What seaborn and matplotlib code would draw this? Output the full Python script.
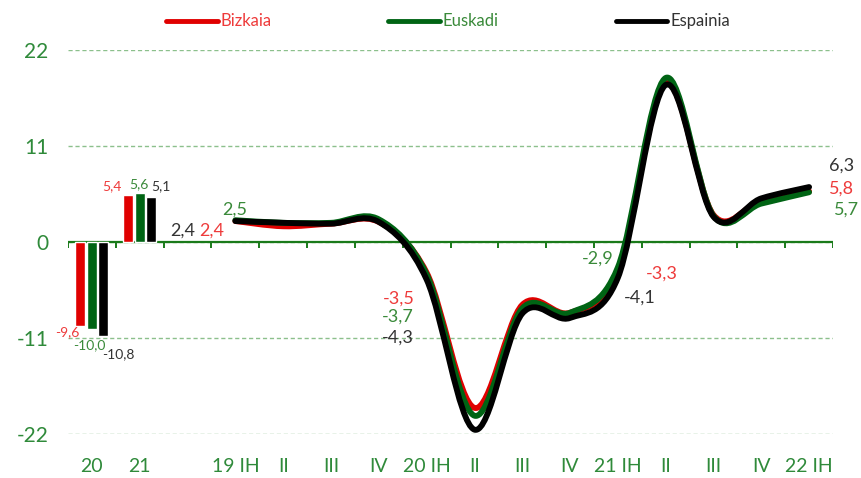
import pandas as pd
import matplotlib.pyplot as plt
import seaborn as sns
from matplotlib.path import Path
from matplotlib.patches import PathPatch
from matplotlib.lines import Line2D

series = ['Bizkaia', 'Euskadi', 'Espainia']
line_colors = ['#e00000', '#006414', '#000000']
text_colors = ['#ee3b3b', '#3a8a3a', '#333333']
green_txt = '#2f8a3a'

x_labels = ['20', '21', '', '19 IH', 'II', 'III', 'IV', '20 IH', 'II', 'III', 'IV',
            '21 IH', 'II', 'III', 'IV', '22 IH']

# annual rates (bars)
annual_bizkaia = [-9.6, 5.4]
annual_euskadi = [-10.0, 5.6]
annual_espainia = [-10.8, 5.1]

# half-year / quarterly rates (lines), 19 IH .. 22 IH
q_bizkaia = [2.4, 1.8, 2.1, 2.3, -3.5, -19.0, -7.2, -8.1, -3.3, 18.2, 3.1, 4.8, 5.8]
q_euskadi = [2.5, 2.2, 2.2, 2.6, -3.7, -19.9, -7.6, -8.1, -2.9, 18.8, 3.0, 4.4, 5.7]
q_espainia = [2.4, 2.2, 2.1, 2.3, -4.3, -21.5, -8.2, -8.7, -4.1, 18.0, 2.9, 5.0, 6.3]

annual = [annual_bizkaia, annual_euskadi, annual_espainia]
quarterly = [q_bizkaia, q_euskadi, q_espainia]
q_pos = list(range(3, 3 + len(q_bizkaia)))


def fmt(v):
    return f'{v:.1f}'.replace('.', ',')


def smooth_path(xs, ys):
    # Excel-style smoothed line: cubic bezier through every point
    pts = list(zip(xs, ys))
    verts = [pts[0]]
    codes = [Path.MOVETO]
    n = len(pts)
    for i in range(n - 1):
        p0 = pts[i - 1] if i > 0 else pts[i]
        p1, p2 = pts[i], pts[i + 1]
        p3 = pts[i + 2] if i + 2 < n else pts[i + 1]
        c1 = (p1[0] + (p2[0] - p0[0]) / 6, p1[1] + (p2[1] - p0[1]) / 6)
        c2 = (p2[0] - (p3[0] - p1[0]) / 6, p2[1] - (p3[1] - p1[1]) / 6)
        verts += [c1, c2, p2]
        codes += [Path.CURVE4] * 3
    return Path(verts, codes)


sns.set_style('white')
plt.rcParams['font.family'] = ['Lato', 'DejaVu Sans']

fig = plt.figure(figsize=(8.61, 4.78), dpi=100)
ax = fig.add_axes([0.079, 0.092, 0.8885, 0.8034])

df_bars = pd.DataFrame({
    'pos': [0, 1] * 3,
    'value': annual_bizkaia + annual_euskadi + annual_espainia,
    'series': [s for s in series for _ in range(2)],
})
sns.barplot(data=df_bars, x='pos', y='value', hue='series', hue_order=series,
            palette=line_colors, native_scale=True, width=0.72, gap=0.12,
            saturation=1, legend=False, ax=ax, zorder=3)

for ys, c in zip(quarterly, line_colors):
    ax.add_patch(PathPatch(smooth_path(q_pos, ys), fill=False, edgecolor=c,
                           lw=4.2, capstyle='round', joinstyle='round', zorder=4))

ax.set_xlim(-0.5, 15.5)
ax.set_ylim(-22, 22)
ax.set_yticks([-22, -11, 0, 11, 22])
ax.set_yticklabels(['-22', '-11', '0', '11', '22'])
ax.set_xticks(range(16))
ax.set_xticklabels(x_labels)
ax.set_xlabel('')
ax.set_ylabel('')
for s in ax.spines.values():
    s.set_visible(False)
ax.tick_params(axis='x', length=0, pad=17, labelsize=14, labelcolor=green_txt)
ax.tick_params(axis='y', length=0, pad=14, labelsize=15, labelcolor=green_txt)
ax.grid(axis='y', color='#8cc08c', linestyle=(0, (3, 2)), lw=1)
ax.grid(axis='x', visible=False)
ax.set_axisbelow(True)

# zero axis with tick marks
ax.axhline(0, color='#1a7a1a', lw=1.6, zorder=2)
ax.vlines([k - 0.5 for k in range(17)], -0.7, 0, color='#1a7a1a', lw=1.4, zorder=2)

# bar labels
bar_dx = [-0.24, 0.0, 0.24]
bar_off = {
    0: [(-13, -6), (-3, -16), (15, -18)],
    1: [(-16, 9), (-1, 9), (10, 11)],
}
for j in range(3):
    for i in range(2):
        v = annual[j][i]
        ax.annotate(fmt(v), (i + bar_dx[j], v), textcoords='offset pixels',
                    xytext=bar_off[i][j], ha='center', va='center',
                    fontsize=10, color=text_colors[j], zorder=5)

# line labels
line_off = {
    0: [(-24, -10), (-1, 11), (-53, -10)],
    4: [(-28, -26), (-29, -42), (-29, -58)],
    8: [(44, -3), (-20, 9), (22, -20)],
    12: [(32, 3), (37, -17), (32, 21)],
}
for idx, offs in line_off.items():
    for j in range(3):
        v = quarterly[j][idx]
        ax.annotate(fmt(v), (q_pos[idx], v), textcoords='offset pixels',
                    xytext=offs[j], ha='center', va='center',
                    fontsize=13, color=text_colors[j], zorder=5)

# legend
W, H = 861, 478
leg = [(166, 218), (388, 440), (616, 667)]
for (x0, x1), name, c, tc in zip(leg, series, line_colors, text_colors):
    fig.add_artist(Line2D([x0 / W, x1 / W], [1 - 21 / H, 1 - 21 / H], color=c,
                          lw=3.5, solid_capstyle='round', transform=fig.transFigure))
    fig.text((x1 + 3) / W, 1 - 21 / H, name, color=tc, fontsize=12,
             ha='left', va='center')

fig.savefig('out.png', dpi=100)
